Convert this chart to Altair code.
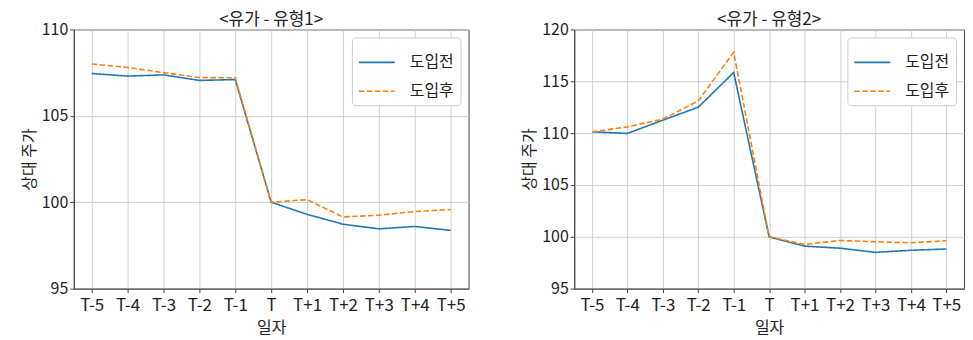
import altair as alt
import pandas as pd

days = ["T-5", "T-4", "T-3", "T-2", "T-1", "T", "T+1", "T+2", "T+3", "T+4", "T+5"]
series_names = ["도입전", "도입후"]

type1_before = [107.45, 107.3, 107.37, 107.05, 107.1, 100.0, 99.3, 98.73, 98.46, 98.6, 98.37]
type1_after = [108.0, 107.8, 107.5, 107.22, 107.2, 100.0, 100.15, 99.15, 99.25, 99.46, 99.58]

type2_before = [110.13, 109.97, 111.25, 112.5, 115.85, 100.0, 99.1, 98.9, 98.5, 98.7, 98.82]
type2_after = [110.13, 110.6, 111.35, 113.1, 117.8, 100.0, 99.26, 99.65, 99.52, 99.42, 99.62]

FONT = "Noto Sans CJK KR"
colors = ["#1f77b4", "#ff7f0e"]
dashes = [[1, 0], [5.5, 2.5]]


def make_df(before, after):
    rows = []
    for name, vals in zip(series_names, [before, after]):
        for d, v in zip(days, vals):
            rows.append({"일자": d, "값": v, "구분": name})
    return pd.DataFrame(rows)


def panel(df, title, ymin, ymax, w):
    return (
        alt.Chart(df)
        .mark_line(strokeWidth=1.6)
        .encode(
            x=alt.X(
                "일자:N",
                sort=days,
                scale=alt.Scale(type="point", padding=0.5),
                axis=alt.Axis(title="일자", labelAngle=0, grid=True, labelFontSize=17,
                              labelPadding=5, titlePadding=6),
            ),
            y=alt.Y(
                "값:Q",
                scale=alt.Scale(domain=[ymin, ymax], nice=False, zero=False),
                axis=alt.Axis(title="상대 주가", values=list(range(ymin, ymax + 1, 5))),
            ),
            color=alt.Color(
                "구분:N",
                sort=series_names,
                scale=alt.Scale(domain=series_names, range=colors),
                legend=alt.Legend(
                    title=None,
                    orient="top-right",
                    symbolType="stroke",
                    symbolSize=1296,
                    symbolStrokeWidth=1.6,
                    labelFontSize=16,
                    labelFont=FONT,
                    labelColor="#222222",
                    labelOffset=14,
                    fillColor="white",
                    strokeColor="#cccccc",
                    cornerRadius=4,
                    padding=6,
                    offset=8,
                    rowPadding=2,
                ),
            ),
            strokeDash=alt.StrokeDash(
                "구분:N",
                sort=series_names,
                scale=alt.Scale(domain=series_names, range=dashes),
                legend=None,
            ),
        )
        .properties(
            width=w,
            height=260,
            title=alt.TitleParams(title, fontSize=17, font=FONT, fontWeight="normal",
                                  offset=-8, color="#222222"),
        )
    )


left = panel(make_df(type1_before, type1_after), "<유가 - 유형1>", 95, 110, 396)
right = panel(make_df(type2_before, type2_after), "<유가 - 유형2>", 95, 120, 391)

chart = (
    alt.hconcat(left, right, spacing=51)
    .resolve_scale(color="independent", strokeDash="independent")
    .properties(padding={"left": 12, "top": 2, "right": 0, "bottom": 0})
    .configure_axis(
        labelFont=FONT,
        titleFont=FONT,
        labelFontSize=16,
        titleFontSize=16,
        titleFontWeight="normal",
        labelColor="#222222",
        titleColor="#222222",
        gridColor="#d0d0d0",
        domainColor="#444444",
        tickColor="#444444",
        tickSize=4,
        labelPadding=2,
        titlePadding=4,
    )
    .configure_view(stroke="#444444", strokeWidth=1)
)

chart.save("out.html", embed_options={"renderer": "svg", "actions": False})
